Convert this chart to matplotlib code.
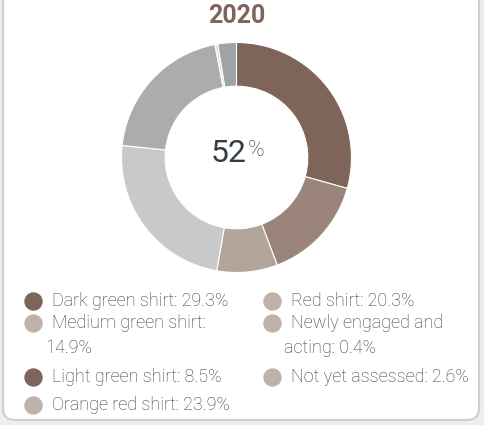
import matplotlib.pyplot as plt
from matplotlib.patches import FancyBboxPatch

# --- data ---
year = "2020"
center_value = 52
categories = ["Dark green shirt", "Medium green shirt", "Light green shirt",
              "Orange red shirt", "Red shirt", "Newly engaged and acting",
              "Not yet assessed"]
shares = [29.3, 14.9, 8.5, 23.9, 20.3, 0.4, 2.6]

# --- style ---
slice_colors = ["#7f6559", "#9b857b", "#b3a49c", "#c8c9cb", "#acacac", "#dcdee0", "#9ea3a8"]
marker_colors = ["#7f6559", "#bfb1ac", "#7f6559", "#bfb1ac", "#bfb1ac", "#bfb1ac", "#bfb1ac"]
FONT = ["Roboto", "DejaVu Sans"]
TEXT_COLOR = "#383838"
W, H = 484, 425

fig = plt.figure(figsize=(W / 100, H / 100), dpi=100, facecolor="#eeeeee")

# background card, drawn in pixel coordinates
bg = fig.add_axes([0, 0, 1, 1])
bg.set_xlim(0, W)
bg.set_ylim(H, 0)
bg.axis("off")
card = FancyBboxPatch((3, -40), 476, 460, boxstyle="round,pad=0,rounding_size=12",
                      facecolor="white", edgecolor="#cfcfcf", linewidth=1.5)
bg.add_patch(card)

bg.text(237, 16, year, ha="center", va="center", fontsize=18, fontweight="bold",
        color="#7f6559", family=FONT)

# donut
cx, cy, r = 236.5, 157.5, 115
ax = fig.add_axes([(cx - r) / W, 1 - (cy + r) / H, 2 * r / W, 2 * r / H])
ax.pie(shares, colors=slice_colors, startangle=90, counterclock=False,
       wedgeprops=dict(width=0.38, edgecolor="white", linewidth=0.8))
ax.set_xlim(-1, 1)
ax.set_ylim(-1, 1)
ax.set_aspect("auto")

bg.text(247, 154, str(center_value), ha="right", va="center", fontsize=23,
        color="#333b45", family=FONT)
bg.text(248, 151, "%", ha="left", va="center", fontsize=16,
        fontweight="light", color="#333b45", family=FONT)

# legend (two columns, long labels wrap)
rows = [(33, 52, 301, 0), (33, 52, 323, 1), (33, 52, 377, 2), (33, 52, 405, 3),
        (272, 291, 301, 4), (272, 291, 323, 5), (272, 291, 377, 6)]
wraps = {1: ("Medium green shirt:", "{:.1f}%"),
         5: ("Newly engaged and", "acting: {:.1f}%")}
for mx, tx, y, i in rows:
    bg.scatter([mx], [y], s=150, color=marker_colors[i], zorder=3)
    if i in wraps:
        first, second = wraps[i]
        bg.text(tx, y, first, ha="left", va="center", fontsize=13,
                fontweight="light", color=TEXT_COLOR, family=FONT)
        bg.text(tx - 7, y + 25, second.format(shares[i]), ha="left", va="center",
                fontsize=13, fontweight="light", color=TEXT_COLOR, family=FONT)
    else:
        bg.text(tx, y, f"{categories[i]}: {shares[i]:.1f}%", ha="left", va="center",
                fontsize=13, fontweight="light", color=TEXT_COLOR, family=FONT)

fig.savefig("out.png", dpi=100, facecolor=fig.get_facecolor())
